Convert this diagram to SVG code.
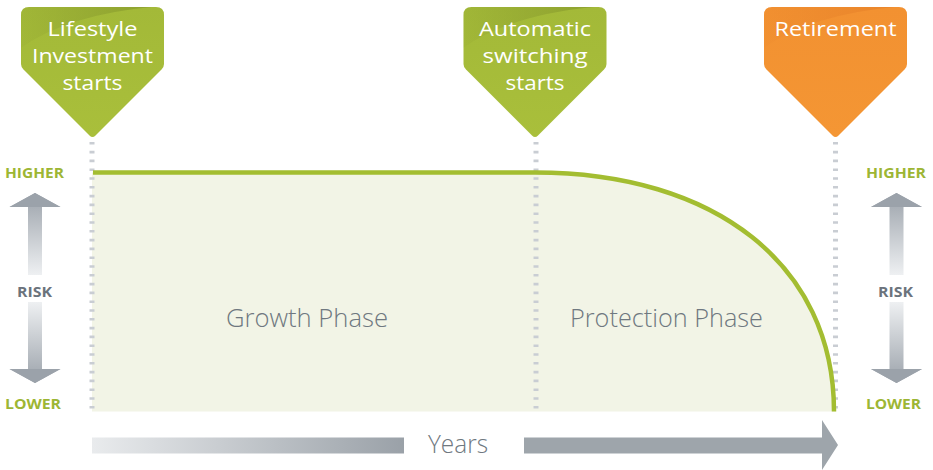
<svg xmlns="http://www.w3.org/2000/svg" width="933" height="470" viewBox="0 0 933 470">
<style>
.badge-text{font-family:"Open Sans","Liberation Sans",sans-serif;font-size:19.5px;fill:#ffffff;text-anchor:middle}
.lvl{font-family:"Open Sans","Liberation Sans",sans-serif;font-size:14px;font-weight:700;fill:#9db634}
.risk{font-family:"Open Sans","Liberation Sans",sans-serif;font-size:14px;font-weight:700;fill:#6b737c;text-anchor:middle}
.phase{font-family:"Open Sans","Liberation Sans",sans-serif;font-size:26px;font-weight:300;fill:#6f7880;text-anchor:middle}
.dash{stroke:#c9cdd3;stroke-width:5;stroke-dasharray:2.6 6.2;fill:none}
</style>
<defs>
<path id="badgeShape" d="M -63.5,7 H 63.5 Q 71.5,7 71.5,15 V 64 Q 71.5,67 69,69.5 L 3,135.5 Q 0,138.5 -3,135.5 L -69,69.5 Q -71.5,67 -71.5,64 V 15 Q -71.5,7 -63.5,7 Z"/>
<clipPath id="badgeClip"><use href="#badgeShape"/></clipPath>
<linearGradient id="gGreen" x1="0" y1="0" x2="0" y2="1">
<stop offset="0" stop-color="#a3b938"/><stop offset="1" stop-color="#a9bf3b"/>
</linearGradient>
<linearGradient id="gOrange" x1="0" y1="0" x2="0" y2="1">
<stop offset="0" stop-color="#f29131"/><stop offset="1" stop-color="#f49634"/>
</linearGradient>
<linearGradient id="gGlossG" x1="0" y1="0" x2="1" y2="0">
<stop offset="0" stop-color="#8a9d2e" stop-opacity="0.1"/><stop offset="1" stop-color="#8a9d2e" stop-opacity="0.9"/>
</linearGradient>
<linearGradient id="gGlossO" x1="0" y1="0" x2="1" y2="0">
<stop offset="0" stop-color="#e8832a" stop-opacity="0.1"/><stop offset="1" stop-color="#e8832a" stop-opacity="0.9"/>
</linearGradient>
<path id="gloss" d="M -72,48 Q -20,12 72,6 V 0 H -72 Z"/>
<linearGradient id="gUp" x1="0" y1="0" x2="0" y2="1">
<stop offset="0" stop-color="#9ba2aa"/><stop offset="1" stop-color="#eef0f2"/>
</linearGradient>
<linearGradient id="gDown" x1="0" y1="0" x2="0" y2="1">
<stop offset="0" stop-color="#eef0f2"/><stop offset="1" stop-color="#9ba2aa"/>
</linearGradient>
<linearGradient id="gYears" x1="0" y1="0" x2="1" y2="0">
<stop offset="0" stop-color="#e9ebed"/><stop offset="1" stop-color="#9aa1a8"/>
</linearGradient>
<g id="riskArrows">
<polygon points="0,193 25.5,207 7,207 7,275 -7,275 -7,207 -25.5,207" fill="url(#gUp)"/>
<polygon points="0,193 25.5,207 -25.5,207" fill="#9ba2aa"/>
<polygon points="-7,302 7,302 7,369 25.5,369 0,383 -25.5,369 -7,369" fill="url(#gDown)"/>
<polygon points="25.5,369 0,383 -25.5,369" fill="#9ba2aa"/>
</g>
</defs>

<g id="chart-area">
<path d="M 92,172.5 H 535 C 715,172.5 836,265 836,411.5 H 92 Z" fill="#f2f4e6"/>
</g>

<g id="connectors">
<line class="dash" x1="92" y1="142" x2="92" y2="412"/>
<line class="dash" x1="536" y1="142" x2="536" y2="412"/>
<line class="dash" x1="835.5" y1="142" x2="835.5" y2="412"/>
</g>

<g id="risk-curve">
<path d="M 93,172.5 H 535 C 715,172.5 834,265 834,411.5" fill="none" stroke="#a3bd31" stroke-width="4.5"/>
</g>

<g id="badge-lifestyle" transform="translate(92.5,0)">
<use href="#badgeShape" fill="url(#gGreen)"/>
<use href="#gloss" fill="url(#gGlossG)" clip-path="url(#badgeClip)"/>
<text class="badge-text" x="0" y="36" textLength="90" lengthAdjust="spacingAndGlyphs">Lifestyle</text>
<text class="badge-text" x="0" y="63" textLength="121" lengthAdjust="spacingAndGlyphs">Investment</text>
<text class="badge-text" x="0" y="90" textLength="60" lengthAdjust="spacingAndGlyphs">starts</text>
</g>

<g id="badge-switching" transform="translate(535,0)">
<use href="#badgeShape" fill="url(#gGreen)"/>
<use href="#gloss" fill="url(#gGlossG)" clip-path="url(#badgeClip)"/>
<text class="badge-text" x="0" y="36" textLength="112" lengthAdjust="spacingAndGlyphs">Automatic</text>
<text class="badge-text" x="0" y="63" textLength="105" lengthAdjust="spacingAndGlyphs">switching</text>
<text class="badge-text" x="0" y="90" textLength="59" lengthAdjust="spacingAndGlyphs">starts</text>
</g>

<g id="badge-retirement" transform="translate(835.5,0)">
<use href="#badgeShape" fill="url(#gOrange)"/>
<use href="#gloss" fill="url(#gGlossO)" clip-path="url(#badgeClip)"/>
<text class="badge-text" x="0" y="36" textLength="122" lengthAdjust="spacingAndGlyphs">Retirement</text>
</g>

<g id="phase-growth">
<text class="phase" x="307" y="327" textLength="162" lengthAdjust="spacingAndGlyphs">Growth Phase</text>
</g>
<g id="phase-protection">
<text class="phase" x="666.5" y="327" textLength="193" lengthAdjust="spacingAndGlyphs">Protection Phase</text>
</g>

<g id="risk-left">
<text class="lvl" x="5" y="177.5" textLength="59" lengthAdjust="spacingAndGlyphs">HIGHER</text>
<use href="#riskArrows" transform="translate(35,0)"/>
<text class="risk" x="34.5" y="297" textLength="35" lengthAdjust="spacingAndGlyphs">RISK</text>
<text class="lvl" x="5" y="409" textLength="56" lengthAdjust="spacingAndGlyphs">LOWER</text>
</g>

<g id="risk-right">
<text class="lvl" x="866" y="177.5" textLength="60" lengthAdjust="spacingAndGlyphs">HIGHER</text>
<use href="#riskArrows" transform="translate(896.5,0)"/>
<text class="risk" x="895.5" y="297" textLength="35" lengthAdjust="spacingAndGlyphs">RISK</text>
<text class="lvl" x="866" y="409" textLength="55" lengthAdjust="spacingAndGlyphs">LOWER</text>
</g>

<g id="years-axis">
<rect x="92" y="437.5" width="312" height="16" fill="url(#gYears)"/>
<text class="phase" x="458" y="452.5" textLength="60" lengthAdjust="spacingAndGlyphs">Years</text>
<polygon points="524,437.5 822,437.5 822,420 838,445 822,470 822,453.5 524,453.5" fill="#9ea5ab"/>
</g>
</svg>
